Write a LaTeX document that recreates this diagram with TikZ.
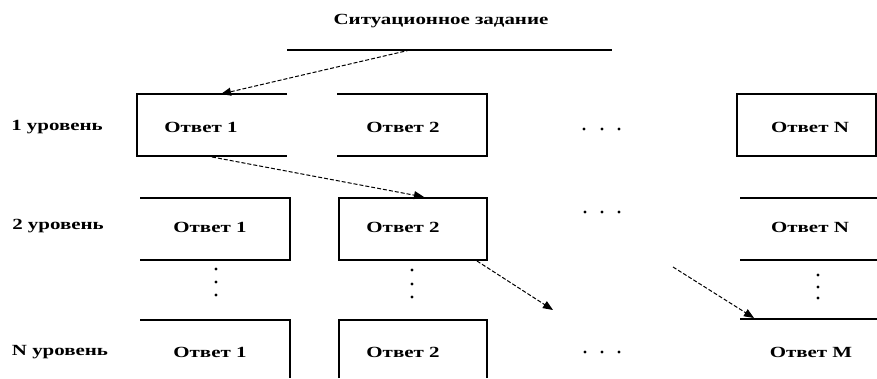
\documentclass[tikz,border=0pt]{standalone}
\usepackage{fontspec}
\setmainfont{Liberation Serif}[FakeStretch=1.35]
\usetikzlibrary{arrows.meta}
\begin{document}
\begin{tikzpicture}[x=1pt,y=-1pt,
  edge/.style={line width=1.3pt},
  txt/.style={font=\bfseries\fontsize{15.5}{17}\selectfont, inner sep=0pt},
  link/.style={line width=1pt, dash pattern=on 4pt off 2pt, -{Triangle[length=10pt,width=8pt]}},
  dotm/.style={fill=black}
]
\useasboundingbox (0,0) rectangle (877,378);
% title
\node[txt] (title) at (441,21) {Ситуационное задание};
\draw[edge] (287,50) coordinate (tl) -- (612,50) coordinate (tr);
\coordinate (a1s) at (410,50);
% row labels
\node[txt] (l1) at (57,127) {1 уровень};
\node[txt] (l2) at (58,226) {2 уровень};
\node[txt] (l3) at (60,352) {N уровень};
% row 1
\draw[edge] (287,94) -- (137,94) -- (137,156) -- (287,156);
\draw[edge] (337,94) -- (487,94) -- (487,156) -- (337,156);
\draw[edge] (737,94) -- (876,94) -- (876,156) -- (737,156) -- cycle;
\node[txt] (r1a) at (201,127) {Ответ 1};
\node[txt] (r1b) at (403,127) {Ответ 2};
\node[txt] (r1n) at (810,127) {Ответ N};
\foreach \x in {584,602,619} \fill[dotm] (\x,129) circle (1.7);
% row 2
\draw[edge] (140,198) -- (290,198) -- (290,260) -- (140,260);
\draw[edge] (339,198) rectangle (487,260);
\draw[edge] (740,198) -- (877,198);
\draw[edge] (740,260) -- (877,260);
\node[txt] (r2a) at (210,227) {Ответ 1};
\node[txt] (r2b) at (403,227) {Ответ 2};
\node[txt] (r2n) at (810,227) {Ответ N};
\foreach \x in {585,602,619} \fill[dotm] (\x,212) circle (1.7);
% vertical dots
\foreach \y in {269,282,295} \fill[dotm] (216,\y) circle (1.7);
\foreach \y in {270,284,297} \fill[dotm] (412,\y) circle (1.7);
\foreach \y in {275,287,298} \fill[dotm] (818,\y) circle (1.7);
% row 3
\draw[edge] (140,320) -- (290,320) -- (290,378);
\draw[edge] (339,378) -- (339,320) -- (487,320) -- (487,378);
\draw[edge] (740,319) -- (877,319);
\node[txt] (r3a) at (210,352) {Ответ 1};
\node[txt] (r3b) at (403,352) {Ответ 2};
\node[txt] (r3n) at (811,352) {Ответ M};
\foreach \x in {585,602,619} \fill[dotm] (\x,352) circle (1.7);
% arrow anchors
\coordinate (a1e) at (221,94);
\coordinate (a2s) at (212,157);
\coordinate (a2e) at (424,197);
\coordinate (a3s) at (477,261);
\coordinate (a3e) at (553,310);
\coordinate (a4s) at (673,267);
\coordinate (a4e) at (754,318);
\draw[link] (a1s) -- (a1e);
\draw[link] (a2s) -- (a2e);
\draw[link] (a3s) -- (a3e);
\draw[link] (a4s) -- (a4e);
\end{tikzpicture}
\end{document}
